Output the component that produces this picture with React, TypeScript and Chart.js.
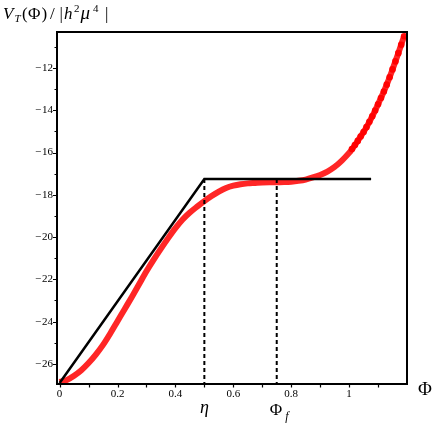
import React, { useEffect, useRef } from "react";
import { Chart, registerables } from "chart.js";

Chart.register(...registerables);

// Red curve: V_T(Phi)/|h^2 mu^4|
const phiValues = [
  0, 0.025, 0.05, 0.075, 0.1, 0.125, 0.15, 0.175, 0.2, 0.225, 0.25, 0.275, 0.3, 0.325, 0.35, 0.375,
  0.4, 0.425, 0.45, 0.475, 0.5, 0.525, 0.55, 0.575, 0.6, 0.625, 0.65, 0.675, 0.7, 0.725, 0.75, 0.775,
  0.8, 0.825, 0.85, 0.875, 0.9, 0.925, 0.95, 0.975, 1.0,
  1.01, 1.02, 1.03, 1.04, 1.05, 1.06, 1.07, 1.08, 1.09, 1.1, 1.11, 1.12, 1.13, 1.14, 1.15, 1.16, 1.17, 1.18, 1.19,
];
const potentialValues = [
  -26.86, -26.76, -26.56, -26.3, -25.96, -25.56, -25.1, -24.56, -23.98, -23.4, -22.82, -22.22, -21.62, -21.07, -20.55, -20.05,
  -19.58, -19.17, -18.84, -18.56, -18.3, -18.06, -17.85, -17.68, -17.57, -17.5, -17.46, -17.44, -17.42, -17.41, -17.41, -17.4,
  -17.38, -17.34, -17.28, -17.18, -17.06, -16.9, -16.68, -16.38, -16.02,
  -15.84, -15.65, -15.45, -15.24, -15.03, -14.8, -14.55, -14.29, -14.01, -13.72, -13.42, -13.12, -12.79, -12.44, -12.07, -11.69, -11.3, -10.9, -10.5,
];

// Black piecewise-linear approximation
const approxPhi = [0, 0.5, 1.076];
const approxV = [-26.9, -17.25, -17.25];

// Dashed markers: eta and Phi_f
const markerPhi = [0.5, 0.75];
const markerTop = [-17.25, -17.25];

// Axis ranges and ticks
const xRange = [-0.009, 1.2];
const yRange = [-26.95, -10.3];
const xMajorTicks = [0, 0.2, 0.4, 0.6, 0.8, 1];
const xMinorTicks = [0.1, 0.3, 0.5, 0.7, 0.9, 1.1];
const yMajorTicks = [-26, -24, -22, -20, -18, -16, -14, -12];
const yMinorTicks = [-25, -23, -21, -19, -17, -15, -13, -11];

const SERIF = '"Liberation Serif", "Times New Roman", serif';

const fmtNum = (v: number) => {
  const s = String(Math.abs(v));
  return v < 0 ? "\u2212\u200A" + s : s;
};

const decorPlugin = {
  id: "decor",
  afterDatasetsDraw(chart: any) {
    const { ctx, chartArea: a, scales } = chart;
    const xs = scales.x;
    const ys = scales.y;
    ctx.save();
    // frame
    ctx.strokeStyle = "#000";
    ctx.lineWidth = 2;
    ctx.strokeRect(a.left, a.top, a.right - a.left, a.bottom - a.top);
    // ticks
    ctx.lineWidth = 1.2;
    ctx.beginPath();
    yMajorTicks.forEach((v) => {
      const p = Math.round(ys.getPixelForValue(v)) + 0.5;
      ctx.moveTo(a.left - 4, p);
      ctx.lineTo(a.left + 1, p);
    });
    yMinorTicks.forEach((v) => {
      const p = Math.round(ys.getPixelForValue(v)) + 0.5;
      ctx.moveTo(a.left - 2.5, p);
      ctx.lineTo(a.left + 1, p);
    });
    xMajorTicks.concat(xMinorTicks).forEach((v) => {
      const p = Math.round(xs.getPixelForValue(v)) + 0.5;
      ctx.moveTo(p, a.bottom - 1);
      ctx.lineTo(p, a.bottom + 3.5);
    });
    ctx.stroke();

    // text
    ctx.fillStyle = "#000";
    ctx.textAlign = "left";
    ctx.textBaseline = "alphabetic";
    const put = (t: string, x: number, y: number, font: string) => {
      ctx.font = font;
      ctx.fillText(t, x, y);
    };
    const it16 = "italic 17px " + SERIF;
    const r16 = "17px " + SERIF;
    const sm = "11px " + SERIF;
    // title V_T(Φ)/|h^2 μ^4|
    put("V", 3, 18.5, it16);
    put("T", 14.5, 22, "italic 11px " + SERIF);
    put("(", 22, 18.5, r16);
    put("\u03A6", 28, 18.5, r16);
    put(")", 41.5, 18.5, r16);
    put("/", 50, 18.5, r16);
    put("|", 59.5, 18.5, r16);
    put("h", 64, 18.5, it16);
    put("2", 74, 12.4, sm);
    put("\u03BC", 80.5, 18.5, "italic 19px " + SERIF);
    put("4", 93, 12.4, sm);
    put("|", 105, 18.5, r16);

    // eta and Phi_f under axis
    ctx.textAlign = "center";
    put("\u03B7", xs.getPixelForValue(markerPhi[0]), 413, "italic 18px " + SERIF);
    ctx.textAlign = "left";
    const pf = xs.getPixelForValue(markerPhi[1]);
    put("\u03A6", pf - 7, 415, "17px " + SERIF);
    put("f", pf + 8.5, 420, "italic 12px " + SERIF);
    // axis label Φ
    put("\u03A6", 418, 395, "19px " + SERIF);
    ctx.restore();
  },
};

export default function App() {
  const ref = useRef<HTMLCanvasElement | null>(null);
  useEffect(() => {
    if (!ref.current) return;
    const curve = phiValues.map((x, i) => ({ x, y: potentialValues[i] }));
    const approx = approxPhi.map((x, i) => ({ x, y: approxV[i] }));
    const dashSets = markerPhi.map((x, i) => ({
      data: [
        { x, y: markerTop[i] },
        { x, y: yRange[0] },
      ],
      borderColor: "#000",
      borderWidth: 2,
      borderDash: [4, 3],
      pointRadius: 0,
      fill: false,
      order: 1,
    }));
    const chart = new Chart(ref.current, {
      type: "line",
      data: {
        datasets: [
          {
            data: approx,
            borderColor: "#000",
            borderWidth: 2.5,
            pointRadius: 0,
            fill: false,
            order: 0,
          },
          ...dashSets,
          {
            data: curve,
            borderColor: "rgba(255,0,0,0.85)",
            borderWidth: 6,
            pointRadius: (c: any) => (c.raw && c.raw.x > 1.0 ? 3.3 : 0),
            pointBorderWidth: 0,
            pointBackgroundColor: "rgba(255,0,0,0.95)",
            cubicInterpolationMode: "monotone",
            fill: false,
            order: 2,
          },
        ] as any,
      },
      options: {
        animation: false,
        responsive: false,
        maintainAspectRatio: false,
        layout: { padding: { top: 32, right: 29, left: 0, bottom: 0 } },
        plugins: { legend: { display: false }, tooltip: { enabled: false } },
        scales: {
          x: {
            type: "linear",
            min: xRange[0],
            max: xRange[1],
            afterFit: (s: any) => {
              s.height = 42;
            },
            grid: { display: false, drawTicks: false },
            border: { display: false },
            ticks: {
              stepSize: 0.1,
              includeBounds: false,
              autoSkip: false,
              maxRotation: 0,
              padding: 4,
              color: "#000",
              font: { family: SERIF, size: 11 },
              callback: (v: any) => {
                const hit = xMajorTicks.find((t) => Math.abs(t - v) < 1e-6);
                return hit === undefined ? "" : String(hit);
              },
            },
          },
          y: {
            type: "linear",
            min: yRange[0],
            max: yRange[1],
            afterFit: (s: any) => {
              s.width = 57;
            },
            grid: { display: false, drawTicks: false },
            border: { display: false },
            ticks: {
              stepSize: 1,
              includeBounds: false,
              autoSkip: false,
              padding: 4,
              color: "#000",
              font: { family: SERIF, size: 11 },
              callback: (v: any) => {
                const hit = yMajorTicks.find((t) => Math.abs(t - v) < 1e-6);
                return hit === undefined ? "" : fmtNum(hit);
              },
            },
          },
        },
      },
      plugins: [decorPlugin],
    });
    return () => chart.destroy();
  }, []);
  return (
    <div style={{ position: "absolute", left: 0, top: 0, width: 436, height: 426, background: "#fff" }}>
      <canvas ref={ref} width={436} height={426} style={{ width: 436, height: 426 }} />
    </div>
  );
}
